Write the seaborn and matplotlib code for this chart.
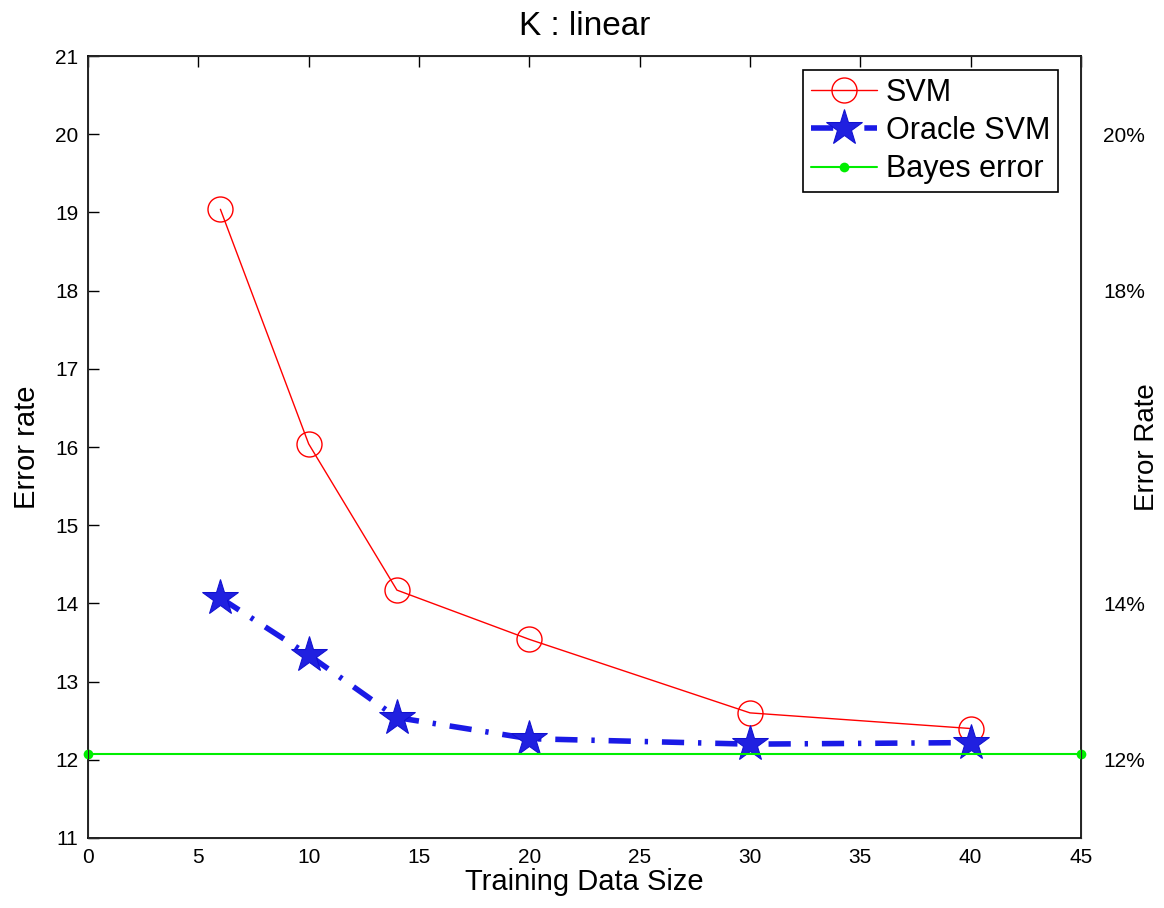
import matplotlib
matplotlib.use("Agg")
import matplotlib.pyplot as plt
import pandas as pd
import seaborn as sns

# data
sizes = [6, 10, 14, 20, 30, 40]
svm_err = [19.04, 16.04, 14.17, 13.54, 12.60, 12.40]
oracle_err = [14.07, 13.34, 12.54, 12.27, 12.20, 12.22]
bayes_x = [0, 45]
bayes_err = [12.08, 12.08]
right_ticks = [12, 14, 18, 20]
right_labels = ["12%", "14%", "18%", "20%"]

sns.set_style("white")
plt.rcParams["font.family"] = ["Liberation Sans", "DejaVu Sans"]
plt.rcParams.update({"text.color": "black", "axes.labelcolor": "black",
                     "xtick.color": "black", "ytick.color": "black"})

fig = plt.figure(figsize=(11.64, 9.08), dpi=100)
ax = fig.add_axes([0.0756, 0.0771, 0.8531, 0.8612])

df_svm = pd.DataFrame({"size": sizes, "err": svm_err})
df_oracle = pd.DataFrame({"size": sizes, "err": oracle_err})
df_bayes = pd.DataFrame({"size": bayes_x, "err": bayes_err})

sns.lineplot(data=df_svm, x="size", y="err", ax=ax, color="red", lw=1,
             marker="o", markersize=18, markerfacecolor="none",
             markeredgecolor="red", markeredgewidth=1, label="SVM")
sns.lineplot(data=df_oracle, x="size", y="err", ax=ax, color="#1a1ae6", lw=4,
             linestyle=(0, (4, 2.5, 0.6, 2.5)), marker="*", markersize=27,
             markerfacecolor="#2020e0", markeredgecolor="#1010d0",
             label="Oracle SVM")
sns.lineplot(data=df_bayes, x="size", y="err", ax=ax, color="#00ee00", lw=1.5,
             marker="o", markersize=7, markeredgewidth=0, label="Bayes error",
             clip_on=False, zorder=5)

ax.set_xlim(0, 45)
ax.set_ylim(11, 21)
ax.set_xticks(range(0, 46, 5))
ax.set_yticks(range(11, 22))
ax.tick_params(axis="both", which="both", direction="in", length=8, width=1,
               labelsize=15, top=True, right=True, pad=7)
for s in ax.spines.values():
    s.set_color("black")
    s.set_linewidth(1.2)

ax.set_title("K : linear", fontsize=24, pad=15)
ax.set_xlabel("Training Data Size", fontsize=21, labelpad=1)
ax.set_ylabel("Error rate", fontsize=21, labelpad=10)

ax2 = ax.twinx()
ax2.set_ylim(11, 21)
ax2.set_yticks(right_ticks)
ax2.set_yticklabels(right_labels)
ax2.tick_params(axis="y", length=0, labelsize=15, pad=16)
ax2.set_ylabel("Error Rate", fontsize=20, va="center")
ax2.yaxis.set_label_coords(1.066, 0.5)
ax2.grid(False)

leg = ax.legend(loc="upper right", bbox_to_anchor=(0.9768, 0.982),
                borderaxespad=0, fontsize=22, frameon=True, fancybox=False,
                edgecolor="black", framealpha=1, borderpad=0.25,
                handlelength=2.15, handletextpad=0.3, labelspacing=0.27)
leg.get_frame().set_linewidth(1.2)

fig.savefig("out.png", dpi=100)
